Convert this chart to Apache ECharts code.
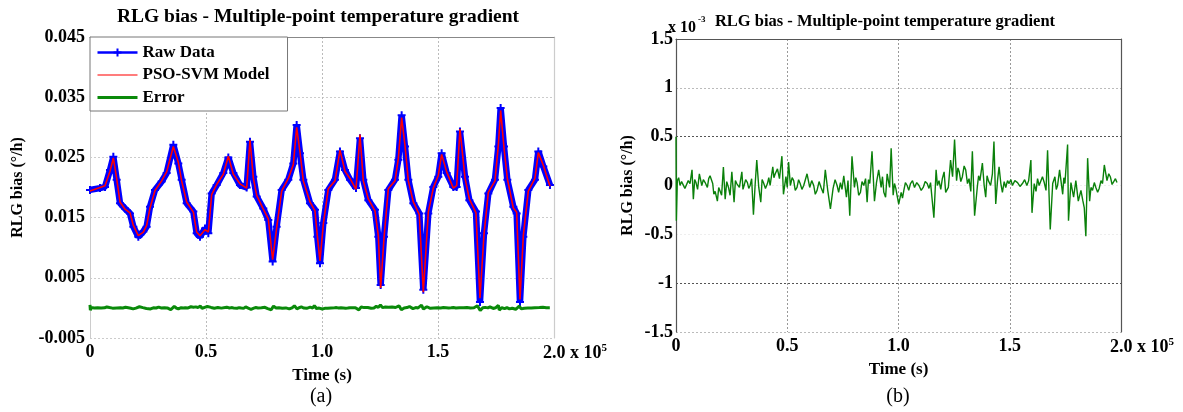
<!DOCTYPE html>
<html><head><meta charset="utf-8">
<script src="https://cdn.jsdelivr.net/npm/echarts@6/dist/echarts.min.js"></script>
<style>html,body{margin:0;padding:0;background:#fff}#c{width:1183px;height:412px}</style>
</head><body><div id="c"></div>
<script>
// ---------- data ----------
const xTickLabels = ['0', '0.5', '1.0', '1.5', '2.0'];
const xExponent = '5';
const rightExponent = '-3';
const titleText = 'RLG bias - Multiple-point temperature gradient';
const yName = 'RLG bias (°/h)';
const xName = 'Time (s)';
const seriesNames = ['Raw Data', 'PSO-SVM Model', 'Error'];

// Time (s) of raw data / model samples
const rawT = [0,4310,6470,8620,10060,11490,12930,15090,17240,18680,20830,22990,24420,25860,28020,30890,33040,35920,38070,39510,41660,44540,45970,47410,49570,51010,52440,54600,57470,59620,61780,64650,67530,68960,70400,71840,74710,76860,78730,80450,82610,85480,87640,89080,90510,91950,94820,96980,97980,99130,100570,102720,105600,107750,109900,112060,114650,116370,117810,119960,122840,124270,125280,126720,128580,131460,132900,134330,135770,137210,139360,141950,143670,145820,147980,150130,151570,153720,156600,158040,159470,161630,163500,166370,168090,169820,171690,174560,176000,177000,178440,179880,182470,183900,185340,186780,188930,191800,193240,195390,198260];
// RLG bias raw data (°/h)
const rawV = [0.0196,0.0199,0.0201,0.0229,0.0251,0.0213,0.0174,0.0165,0.0157,0.0135,0.0118,0.0127,0.0135,0.0168,0.0196,0.0210,0.0224,0.0271,0.0240,0.0213,0.0174,0.0160,0.0124,0.0118,0.0132,0.0124,0.0190,0.0204,0.0224,0.0250,0.0224,0.0204,0.0200,0.0276,0.0218,0.0185,0.0165,0.0146,0.0077,0.0135,0.0196,0.0213,0.0240,0.0304,0.0257,0.0213,0.0174,0.0163,0.0118,0.0074,0.0141,0.0196,0.0213,0.0260,0.0229,0.0213,0.0199,0.0282,0.0213,0.0179,0.0163,0.0118,0.0038,0.0118,0.0196,0.0213,0.0246,0.0320,0.0268,0.0213,0.0174,0.0157,0.0030,0.0157,0.0201,0.0218,0.0257,0.0224,0.0201,0.0201,0.0293,0.0218,0.0179,0.0160,0.0010,0.0124,0.0190,0.0213,0.0268,0.0332,0.0268,0.0213,0.0168,0.0157,0.0010,0.0118,0.0196,0.0213,0.0260,0.0235,0.0204];
// PSO-SVM model output (°/h)
const modelV = [0.0194,0.0200,0.0203,0.0227,0.0249,0.0215,0.0176,0.0164,0.0158,0.0137,0.0120,0.0126,0.0137,0.0166,0.0195,0.0211,0.0226,0.0268,0.0242,0.0211,0.0176,0.0159,0.0126,0.0120,0.0130,0.0126,0.0188,0.0205,0.0222,0.0252,0.0222,0.0206,0.0199,0.0279,0.0216,0.0187,0.0164,0.0148,0.0080,0.0133,0.0194,0.0215,0.0238,0.0300,0.0259,0.0211,0.0176,0.0161,0.0120,0.0078,0.0139,0.0198,0.0211,0.0262,0.0227,0.0215,0.0197,0.0288,0.0211,0.0181,0.0161,0.0120,0.0033,0.0116,0.0198,0.0211,0.0248,0.0316,0.0270,0.0211,0.0176,0.0155,0.0026,0.0159,0.0199,0.0220,0.0255,0.0226,0.0199,0.0203,0.0297,0.0216,0.0181,0.0158,0.0016,0.0122,0.0192,0.0211,0.0270,0.0328,0.0266,0.0215,0.0166,0.0159,0.0014,0.0120,0.0194,0.0215,0.0258,0.0237,0.0202];

// Error samples: time (s) and error in units of 1e-3 °/h
const errT = [0,150,600,1200,1800,2500,3300,4000,4800,5500,
6300,7200,7800,8400,9000,9700,10500,11600,12300,13100,
14100,14700,15300,16500,17000,17600,18600,19200,19800,20500,
21300,22100,22800,23600,24300,25100,26100,26700,27300,28500,
29600,30100,30600,31300,32100,32700,33300,34000,34800,35600,
36300,37200,38100,38700,39300,40200,41100,41700,42300,43500,
44000,44600,45600,46500,47600,48300,49400,50000,50600,51400,
52200,52900,53600,54400,55100,55800,56600,57400,58900,60100,
61000,61900,62600,63400,64300,65200,66200,67100,68200,69400,
70600,71500,72400,73100,73900,74600,75400,76600,77300,78100,
79100,80200,80800,81400,82100,82900,83600,84400,85200,85900,
86500,87100,88100,89200,90100,91100,92200,92800,93400,94200,
94900,96000,96700,97600,98200,98800,99500,100100,101200,101800,
102400,103100,103900,104600,105400,106300,107200,108200,109200,110200,
111100,112000,112900,113700,114400,115900,116900,117500,118200,119000,
119700,120500,121200,122400,123400,124300,125200,126100,126700,127300,
128000,128700,129500,130200,131000,131700,132500,133200,134200,135400,
136000,136600,137700,138500,139200,139800,140400,141400,142200,142900,
143700,144500,145200,146000,146700,147500,148200,149000,149700,150500,
151200,152300,153500,154600,155700,156700,157700,158500,159200,159500,
160000,161000,161800,162500,163200,164000,164700,165500,166300,167000,
168200,169300,170300,170900,171500,172400,173800,174300,174800,176000,
176400,177500,178700,179700,180800,182000,182800,183500,184200,185000,
185900,186500,187200,188000,188700,189500,190200,191000,191700,192500,
193700,194500,195200,196000,196700,197500,198200];
const errV = [0.50,-0.36,0.05,0.08,0.00,0.04,0.02,-0.03,-0.01,0.05,
0.02,0.16,-0.14,0.06,0.03,-0.04,0.12,0.00,0.06,0.03,
-0.02,0.07,0.10,0.02,-0.09,-0.06,-0.16,-0.02,-0.03,-0.10,
0.19,-0.14,0.04,-0.02,-0.10,0.14,-0.17,0.05,0.02,-0.02,
0.14,-0.04,0.00,0.06,0.03,-0.03,0.00,0.07,-0.30,0.02,
0.26,-0.02,-0.17,0.06,0.03,-0.03,0.02,0.08,0.00,0.19,
0.08,0.12,0.17,0.07,0.30,-0.09,0.09,-0.02,0.24,0.00,
0.08,0.05,-0.05,-0.02,0.06,0.02,-0.04,0.00,0.12,-0.02,
0.05,0.00,-0.09,-0.05,0.04,-0.02,-0.08,0.16,-0.05,-0.24,
-0.03,0.06,0.00,-0.07,0.03,-0.04,0.10,-0.12,0.05,-0.31,
0.30,-0.02,0.08,0.03,-0.10,-0.07,0.04,0.00,0.07,-0.17,
0.06,0.02,0.35,-0.16,0.03,0.16,-0.02,0.09,-0.07,-0.12,
0.12,-0.02,0.38,-0.10,0.02,-0.03,-0.12,-0.19,-0.07,-0.13,
-0.05,0.03,0.00,-0.05,0.02,0.05,-0.02,0.03,0.00,-0.05,
-0.02,0.04,0.02,-0.03,0.03,-0.33,0.16,0.00,0.05,-0.04,
0.07,0.14,-0.07,-0.02,0.26,0.09,0.47,0.05,0.18,0.14,
0.04,0.09,0.20,0.16,0.02,0.07,-0.06,0.35,-0.31,-0.02,
0.10,0.05,0.23,0.00,-0.12,0.10,0.05,0.00,0.12,0.45,
-0.19,0.05,0.19,0.02,-0.07,0.04,-0.02,0.05,0.02,0.06,
0.00,0.05,0.03,-0.01,0.02,0.06,0.00,0.05,0.03,0.26,
-0.28,0.02,-0.06,0.07,0.00,-0.02,0.09,0.03,-0.05,0.36,
-0.45,0.02,0.09,-0.04,0.00,0.16,-0.09,0.08,0.02,0.42,
-0.36,0.03,-0.12,0.05,-0.16,-0.05,-0.15,-0.23,-0.52,0.28,
-0.16,-0.02,-0.05,0.03,-0.02,-0.07,-0.03,0.05,0.02,0.21,
0.05,0.12,0.09,0.01,0.02,0.07,0.03];

// ---------- chart ----------
const FF = 'Liberation Serif, Times New Roman, serif';
const zip = (a, b, k) => a.map((t, i) => [t, b[i] * (k || 1)]);
const PLUS = 'path://M3,0h2v3h3v2h-3v3h-2v-3h-3v-2h3z';
const CLEAR = 'rgba(0,0,0,0)';

const xFmt = v => {
  const k = Math.round(v / 50000);
  const s = xTickLabels[k];
  if (k === xTickLabels.length - 1) return '{sp|}{n|' + s + '}{n| x 10}{s|' + xExponent + '}';
  return s;
};
const xRich = {
  sp: { width: 42 },
  n: { fontFamily: FF, fontWeight: 'bold', fontSize: 18, color: '#000', lineHeight: 20 },
  s: { fontFamily: FF, fontWeight: 'bold', fontSize: 11, color: '#000', verticalAlign: 'top', lineHeight: 20 }
};

function mainX(gi) {
  return {
    type: 'value', gridIndex: gi, min: 0, max: 200000, interval: 50000,
    axisLine: { show: false }, axisTick: { show: false },
    axisLabel: { formatter: xFmt, rich: xRich, margin: 5, color: '#000', fontFamily: FF, fontWeight: 'bold', fontSize: 18 },
    splitLine: { show: true, lineStyle: { type: [2, 2], color: gi === 0 ? '#bbb' : '#999', width: 1 } },
    name: xName, nameLocation: 'middle', nameGap: 26,
    nameTextStyle: { fontFamily: FF, fontWeight: 'bold', fontSize: 17, color: '#000' }
  };
}
function frameX(gi, color) {
  return { type: 'value', gridIndex: gi, position: 'top', min: 0, max: 200000,
    axisLine: { show: true, onZero: false, lineStyle: { color: color, width: 1.2 } },
    axisTick: { show: false }, axisLabel: { show: false }, splitLine: { show: false } };
}
function frameY(gi, min, max, color) {
  return { type: 'value', gridIndex: gi, position: 'right', min: min, max: max,
    axisLine: { show: true, onZero: false, lineStyle: { color: color, width: 1.2 } },
    axisTick: { show: false }, axisLabel: { show: false }, splitLine: { show: false } };
}

const option = {
  animation: false,
  backgroundColor: '#fff',
  grid: [
    { left: 90, top: 37, width: 464, height: 301 },
    { left: 676, top: 39, width: 445, height: 293 }
  ],
  legend: {
    data: [
      { name: seriesNames[0], lineStyle: { width: 2.5, color: '#0000ff' }, itemStyle: { color: '#0000ff' } },
      { name: seriesNames[1], lineStyle: { width: 1.5, color: '#ff5050' }, itemStyle: { color: CLEAR, borderColor: CLEAR, borderWidth: 0 } },
      { name: seriesNames[2], lineStyle: { width: 3, color: '#0a8a0a' }, itemStyle: { color: CLEAR, borderColor: CLEAR, borderWidth: 0 } }
    ],
    orient: 'vertical', left: 90, top: 37, z: 10,
    itemWidth: 40, itemHeight: 10, itemGap: 5.5,
    padding: [7, 18, 5, 6],
    backgroundColor: '#fff', borderColor: '#777', borderWidth: 1, borderRadius: 0,
    textStyle: { fontFamily: FF, fontWeight: 'bold', fontSize: 17, color: '#000' }
  },
  xAxis: [mainX(0), frameX(0, '#888'), mainX(1), frameX(1, '#555')],
  yAxis: [
    { type: 'value', gridIndex: 0, min: -0.005, max: 0.045, interval: 0.01,
      axisLine: { show: true, onZero: false, lineStyle: { color: '#ccc' } }, axisTick: { show: false },
      axisLabel: { margin: 5, color: '#000', fontFamily: FF, fontWeight: 'bold', fontSize: 18 },
      splitLine: { show: true, lineStyle: { type: [2, 2], color: '#ccc' } },
      name: yName, nameLocation: 'middle', nameGap: 64, nameRotate: 90,
      nameTextStyle: { fontFamily: FF, fontWeight: 'bold', fontSize: 16, color: '#000' } },
    frameY(0, -0.005, 0.045, '#ccc'),
    { type: 'value', gridIndex: 1, min: -1.5, max: 1.5, interval: 0.5,
      axisLine: { show: true, onZero: false, lineStyle: { color: '#555', width: 1.2 } }, axisTick: { show: false },
      axisLabel: { margin: 3, color: '#000', fontFamily: FF, fontWeight: 'bold', fontSize: 18 },
      splitLine: { show: true, lineStyle: { type: [2, 2], color: ['#bbb', '#555', '#eee', '#eee', '#555', '#bbb', '#bbb'] } },
      name: yName, nameLocation: 'middle', nameGap: 40, nameRotate: 90,
      nameTextStyle: { fontFamily: FF, fontWeight: 'bold', fontSize: 16, color: '#000' } },
    frameY(1, -1.5, 1.5, '#555')
  ],
  series: [
    { name: seriesNames[0], type: 'line', xAxisIndex: 0, yAxisIndex: 0, data: zip(rawT, rawV),
      symbol: PLUS, symbolSize: 8, showSymbol: true,
      lineStyle: { color: '#0000ff', width: 6.5 }, itemStyle: { color: '#0000ff' }, z: 2 },
    { name: seriesNames[1], type: 'line', xAxisIndex: 0, yAxisIndex: 0, data: zip(rawT, modelV),
      symbol: 'none', lineStyle: { color: '#ff0000', width: 1.6 }, itemStyle: { color: '#ff0000' }, z: 3 },
    { name: seriesNames[2], type: 'line', xAxisIndex: 0, yAxisIndex: 0, data: zip(errT, errV, 1e-3),
      symbol: 'none', lineStyle: { color: '#0a8a0a', width: 3 }, itemStyle: { color: '#0a8a0a' }, z: 4 },
    { name: seriesNames[2], type: 'line', xAxisIndex: 2, yAxisIndex: 2, data: zip(errT, errV),
      symbol: 'none', lineStyle: { color: '#0a800a', width: 1.4 }, itemStyle: { color: '#0a800a' }, z: 4 }
  ],
  graphic: [
    { type: 'text', x: 318, y: 17, style: { text: titleText, align: 'center', verticalAlign: 'middle',
      font: 'bold 19.5px ' + FF, fill: '#000' } },
    { type: 'text', x: 885, y: 22, style: { text: titleText, align: 'center', verticalAlign: 'middle',
      font: 'bold 16.5px ' + FF, fill: '#000' } },
    { type: 'text', x: 668, y: 28, style: { text: 'x 10', align: 'left', verticalAlign: 'middle',
      font: 'bold 16px ' + FF, fill: '#000' } },
    { type: 'text', x: 698, y: 20, style: { text: rightExponent, align: 'left', verticalAlign: 'middle',
      font: 'bold 9px ' + FF, fill: '#000' } },
    { type: 'text', x: 321, y: 397, style: { text: '(a)', align: 'center', verticalAlign: 'middle',
      font: '20px ' + FF, fill: '#000' } },
    { type: 'text', x: 898, y: 397, style: { text: '(b)', align: 'center', verticalAlign: 'middle',
      font: '20px ' + FF, fill: '#000' } }
  ]
};
const chart = echarts.init(document.getElementById('c'), null, { renderer: 'canvas' });
chart.setOption(option);
</script></body></html>
